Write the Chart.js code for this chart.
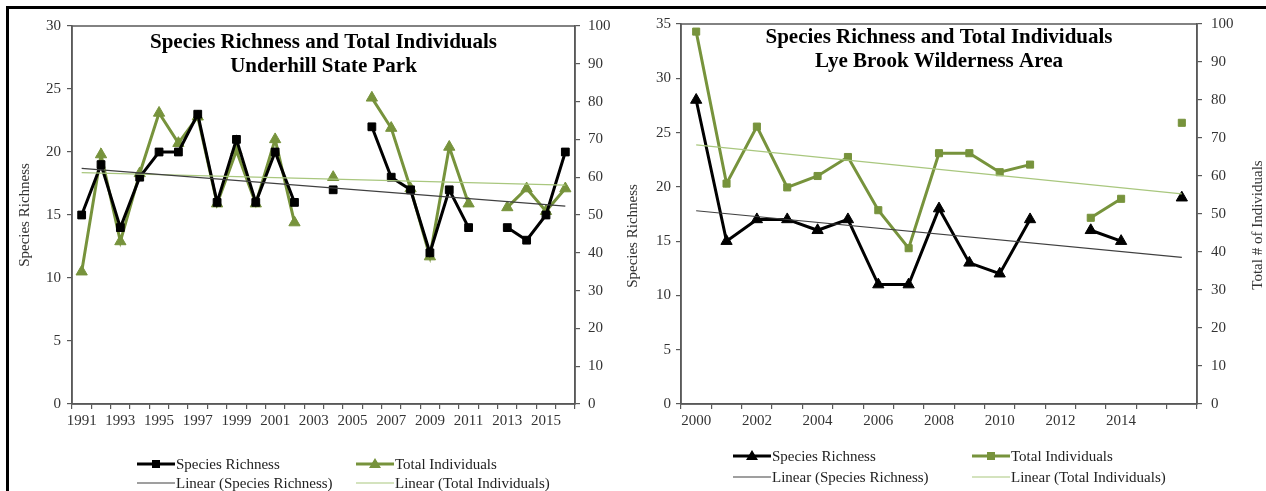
<!DOCTYPE html>
<html>
<head>
<meta charset="utf-8">
<script src="https://cdn.jsdelivr.net/npm/chart.js@4.4.1/dist/chart.umd.min.js"></script>
<style>
  body { margin: 0; background: #fff; width: 1266px; height: 491px; overflow: hidden; position: relative; font-family: "Liberation Serif", "Times New Roman", serif; }
  #frame { position: absolute; left: 6px; top: 6px; width: 1300px; height: 520px; border-top: 3px solid #000; border-left: 3px solid #000; }
  canvas { position: absolute; top: 0; }
  #underhill { left: 0; }
  #lyebrook { left: 600px; }
  .item { position: absolute; height: 18px; display: flex; align-items: center; white-space: nowrap; font-size: 15px; color: #222; }
  .item svg { margin-right: 1px; }
</style>
</head>
<body>
<div id="frame"></div>
<canvas id="underhill" width="630" height="491"></canvas>
<canvas id="lyebrook" width="666" height="491"></canvas>
<div id="legends"></div>

<script>
// Underhill State Park
var underhillYears = ['1991','1992','1993','1994','1995','1996','1997','1998','1999','2000','2001','2002','2003',
                      '2004','2005','2006','2007','2008','2009','2010','2011','2012','2013','2014','2015','2016'];
var underhillTicks = ['1991','','1993','','1995','','1997','','1999','','2001','','2003',
                      '','2005','','2007','','2009','','2011','','2013','','2015',''];
var underhillRichness    = [15, 19, 14, 18, 20, 20, 23, 16, 21, 16, 20, 16, null, 17, null, 22, 18, 17, 12, 17, 14, null, 14, 13, 15, 20];
var underhillIndividuals = [35, 66, 43, 61, 77, 69, 76, 53, 67, 53, 70, 48, null, 60, null, 81, 73, 57, 39, 68, 53, null, 52, 57, 51, 57];
// trend line end points
var underhillRichnessTrend    = [18.7, null, null, null, null, null, null, null, null, null, null, null, null,
                                 null, null, null, null, null, null, null, null, null, null, null, null, 15.7];
var underhillIndividualsTrend = [61.2, null, null, null, null, null, null, null, null, null, null, null, null,
                                 null, null, null, null, null, null, null, null, null, null, null, null, 57.9];

// Lye Brook Wilderness Area
var lyeYears = ['2000','2001','2002','2003','2004','2005','2006','2007','2008','2009','2010','2011','2012','2013','2014','2015','2016'];
var lyeTicks = ['2000','','2002','','2004','','2006','','2008','','2010','','2012','','2014','',''];
var lyeRichness    = [28, 15, 17, 17, 16, 17, 11, 11, 18, 13, 12, 17, null, 16, 15, null, 19];
var lyeIndividuals = [98, 58, 73, 57, 60, 65, 51, 41, 66, 66, 61, 63, null, 49, 54, null, 74];
var lyeRichnessTrend    = [17.8, null, null, null, null, null, null, null, null, null, null, null, null, null, null, null, 13.5];
var lyeIndividualsTrend = [68.2, null, null, null, null, null, null, null, null, null, null, null, null, null, null, null, 55.3];

var BLACK = '#000000';
var GREEN = '#77933c';
var TREND_BLACK = '#404040';
var TREND_GREEN = '#a9c77e';
var AXIS = '#595959';

Chart.defaults.font.family = '"Liberation Serif", "Times New Roman", serif';
Chart.defaults.font.size = 15;
Chart.defaults.color = '#333';

// plot frame, in-plot title and rotated axis titles
var panelText = {
  id: 'panelText',
  beforeDatasetsDraw: function(chart) {
    var a = chart.chartArea, ctx = chart.ctx;
    ctx.save();
    ctx.strokeStyle = AXIS;
    ctx.lineWidth = 1.5;
    ctx.strokeRect(a.left, a.top, a.right - a.left, a.bottom - a.top);
    ctx.restore();
  },
  afterDraw: function(chart, args, opts) {
    var a = chart.chartArea, ctx = chart.ctx;
    ctx.save();
    ctx.textAlign = 'center';
    ctx.textBaseline = 'middle';
    ctx.fillStyle = '#000';
    ctx.font = 'bold 21px "Liberation Serif"';
    var cx = (a.left + a.right) / 2;
    opts.title.forEach(function(t, i) {
      ctx.fillText(t, cx, opts.titleY + i * 24);
    });
    ctx.font = '15px "Liberation Serif"';
    ctx.fillStyle = '#333';
    opts.axisTitles.forEach(function(t) {
      ctx.save();
      ctx.translate(t.x, t.y);
      ctx.rotate(-Math.PI / 2);
      ctx.fillText(t.text, 0, 0);
      ctx.restore();
    });
    ctx.restore();
  }
};

function yAxis(pos, max, step, width, pad) {
  return {
    position: pos, min: 0, max: max,
    ticks: { stepSize: step, padding: pad },
    grid: { drawOnChartArea: false, tickLength: 5, color: AXIS, lineWidth: 1.2 },
    border: { color: AXIS, width: 1.5 },
    afterFit: function(s) { s.width = width; }
  };
}

function xAxis(tickLabels) {
  return {
    type: 'category', offset: true,
    grid: { offset: true, drawOnChartArea: false, tickLength: 5, color: AXIS, lineWidth: 1.2 },
    border: { color: AXIS, width: 1.5 },
    ticks: { autoSkip: false, maxRotation: 0, padding: 3, callback: function(v, i) { return tickLabels[i]; } },
    afterFit: function(s) { s.height = 87; }
  };
}

function series(label, data, axis, color, style, radius, order) {
  return {
    label: label, data: data, yAxisID: axis,
    borderColor: color, backgroundColor: color, borderWidth: 3,
    pointStyle: style, pointRadius: radius, pointBorderWidth: 1,
    pointBackgroundColor: color, pointBorderColor: color,
    tension: 0, order: order
  };
}

function trend(label, data, axis, color) {
  return {
    label: label, data: data, yAxisID: axis,
    borderColor: color, borderWidth: 1.2, pointRadius: 0,
    spanGaps: true, tension: 0, order: 0
  };
}

new Chart(document.getElementById('underhill'), {
  type: 'line',
  data: {
    labels: underhillYears,
    datasets: [
      series('Species Richness', underhillRichness, 'y', BLACK, 'rect', 5.5, 1),
      series('Total Individuals', underhillIndividuals, 'y1', GREEN, 'triangle', 6.5, 2),
      trend('Linear (Species Richness)', underhillRichnessTrend, 'y', TREND_BLACK),
      trend('Linear (Total Individuals)', underhillIndividualsTrend, 'y1', TREND_GREEN)
    ]
  },
  options: {
    responsive: false, animation: false, devicePixelRatio: 1,
    layout: { padding: { top: 26, left: 0, right: 0, bottom: 0 } },
    scales: {
      x: xAxis(underhillTicks),
      y: yAxis('left', 30, 5, 72, 6),
      y1: yAxis('right', 100, 10, 55, 8)
    },
    plugins: {
      legend: { display: false },
      tooltip: { enabled: false },
      panelText: {
        title: ['Species Richness and Total Individuals', 'Underhill State Park'],
        titleY: 43,
        axisTitles: [{ text: 'Species Richness', x: 25, y: 215 }]
      }
    }
  },
  plugins: [panelText]
});

new Chart(document.getElementById('lyebrook'), {
  type: 'line',
  data: {
    labels: lyeYears,
    datasets: [
      series('Species Richness', lyeRichness, 'y', BLACK, 'triangle', 6.5, 1),
      series('Total Individuals', lyeIndividuals, 'y1', GREEN, 'rect', 5, 2),
      trend('Linear (Species Richness)', lyeRichnessTrend, 'y', TREND_BLACK),
      trend('Linear (Total Individuals)', lyeIndividualsTrend, 'y1', TREND_GREEN)
    ]
  },
  options: {
    responsive: false, animation: false, devicePixelRatio: 1,
    layout: { padding: { top: 24, left: 0, right: 0, bottom: 0 } },
    scales: {
      x: xAxis(lyeTicks),
      y: yAxis('left', 35, 5, 81, 5),
      y1: yAxis('right', 100, 10, 69, 9)
    },
    plugins: {
      legend: { display: false },
      tooltip: { enabled: false },
      panelText: {
        title: ['Species Richness and Total Individuals', 'Lye Brook Wilderness Area'],
        titleY: 38,
        axisTitles: [
          { text: 'Species Richness', x: 33, y: 236 },
          { text: 'Total # of Individuals', x: 658, y: 225 }
        ]
      }
    }
  },
  plugins: [panelText]
});

// html legends laid out in two rows like the original
function symbol(color, width, marker) {
  var m = '';
  if (marker === 'rect') m = '<rect x="15" y="2" width="8" height="8" fill="' + color + '"/>';
  if (marker === 'triangle') m = '<polygon points="19,0 25,10 13,10" fill="' + color + '"/>';
  return '<svg width="38" height="12"><line x1="0" y1="6" x2="38" y2="6" stroke="' + color + '" stroke-width="' + width + '"/>' + m + '</svg>';
}

var legendItems = [
  { x: 137, y: 464, text: 'Species Richness', color: BLACK, w: 3, m: 'rect' },
  { x: 356, y: 464, text: 'Total Individuals', color: GREEN, w: 3, m: 'triangle' },
  { x: 137, y: 483, text: 'Linear (Species Richness)', color: TREND_BLACK, w: 1.2 },
  { x: 356, y: 483, text: 'Linear (Total Individuals)', color: TREND_GREEN, w: 1.2 },
  { x: 733, y: 456, text: 'Species Richness', color: BLACK, w: 3, m: 'triangle' },
  { x: 972, y: 456, text: 'Total Individuals', color: GREEN, w: 3, m: 'rect' },
  { x: 733, y: 477, text: 'Linear (Species Richness)', color: TREND_BLACK, w: 1.2 },
  { x: 972, y: 477, text: 'Linear (Total Individuals)', color: TREND_GREEN, w: 1.2 }
];
var box = document.getElementById('legends');
legendItems.forEach(function(it) {
  var d = document.createElement('div');
  d.className = 'item';
  d.style.left = it.x + 'px';
  d.style.top = (it.y - 9) + 'px';
  d.innerHTML = symbol(it.color, it.w, it.m) + '<span>' + it.text + '</span>';
  box.appendChild(d);
});
</script>
</body>
</html>
